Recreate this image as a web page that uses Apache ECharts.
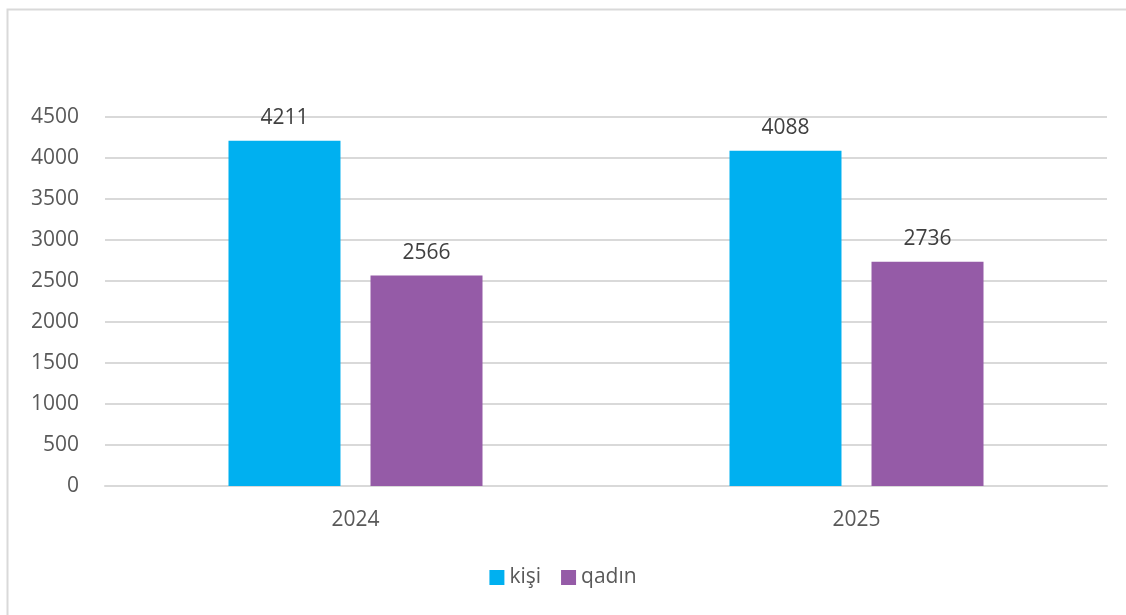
<!DOCTYPE html>
<html><head><meta charset="utf-8">
<script src="https://cdn.jsdelivr.net/npm/echarts@6/dist/echarts.min.js"></script>
<style>html,body{margin:0;padding:0;background:#fff}#c{width:1126px;height:615px}</style>
</head><body><div id="c"></div>
<script>
const categories = ['2024', '2025'];
const kisi = [4211, 4088];
const qadin = [2566, 2736];
const seriesNames = ['kişi', 'qadın'];
const yTicks = {min: 0, max: 4500, interval: 500};

const chart = echarts.init(document.getElementById('c'), null, {renderer: 'canvas'});
const font = '"Open Sans", "Liberation Sans", sans-serif';
const labelStyle = {show: true, position: 'top', distance: 12, color: '#404040', fontSize: 21, fontFamily: font};
chart.setOption({
  animation: false,
  backgroundColor: '#fff',
  graphic: [{type: 'rect', shape: {x: 7.5, y: 9.5, width: 1130, height: 610}, style: {fill: 'none', stroke: '#d9d9d9', lineWidth: 2}, silent: true}],
  grid: {left: 105, right: 19, top: 117, bottom: 129, containLabel: false},
  legend: {
    data: seriesNames, bottom: 22, left: 'center', itemWidth: 15, itemHeight: 15, itemGap: 20,
    icon: 'rect', textStyle: {color: '#595959', fontSize: 21, fontFamily: font}
  },
  xAxis: {
    type: 'category', data: categories,
    axisLine: {show: true, lineStyle: {color: '#d9d9d9', width: 2}},
    axisTick: {show: false},
    axisLabel: {color: '#595959', fontSize: 21, fontFamily: font, margin: 24}
  },
  yAxis: {
    type: 'value', min: yTicks.min, max: yTicks.max, interval: yTicks.interval,
    axisLine: {show: false}, axisTick: {show: false},
    splitLine: {lineStyle: {color: '#d9d9d9', width: 2}},
    axisLabel: {color: '#595959', fontSize: 21, fontFamily: font, margin: 26, formatter: v => String(v)}
  },
  series: [
    {name: seriesNames[0], type: 'bar', data: kisi, barWidth: 112, barGap: '26.8%', itemStyle: {color: '#00b0f0'}, label: labelStyle},
    {name: seriesNames[1], type: 'bar', data: qadin, barWidth: 112, itemStyle: {color: '#955ba7'}, label: labelStyle}
  ]
});
</script></body></html>
